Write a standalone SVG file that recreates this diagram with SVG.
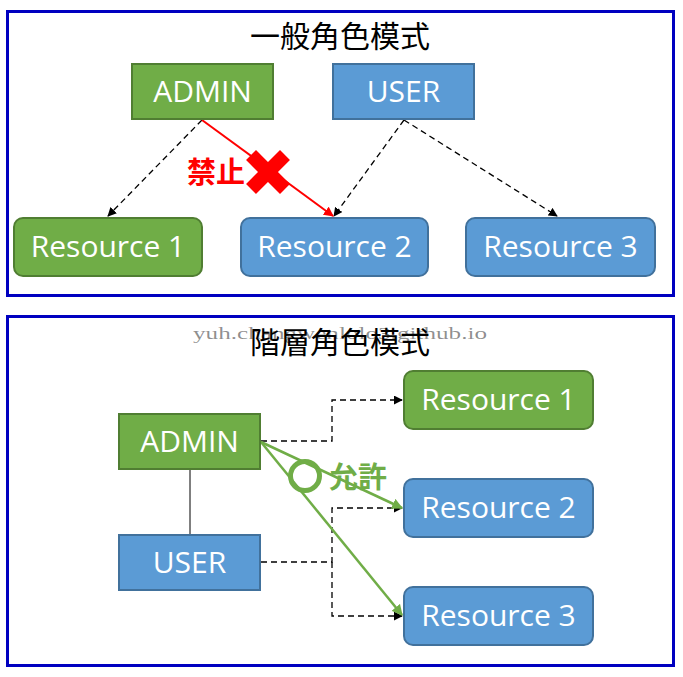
<svg xmlns="http://www.w3.org/2000/svg" width="683" height="677" viewBox="0 0 683 677">
<defs>
<style>
.frame{fill:#fff;stroke:#0000c0;stroke-width:3}
.g{fill:#70ad47;stroke:#507e32;stroke-width:2}
.b{fill:#5b9bd5;stroke:#41719c;stroke-width:2}
.lbl{font-family:"Open Sans","Noto Sans",sans-serif;font-size:30px;fill:#fff;text-anchor:middle}
.title{font-family:"Noto Sans CJK JP","Noto Sans CJK TC",sans-serif;font-size:30px;fill:#000;text-anchor:middle}
.dash{fill:none;stroke:#000;stroke-width:1.3;stroke-dasharray:6,4}
</style>
<marker id="ab" viewBox="0 0 10 10" refX="9" refY="5" markerWidth="9" markerHeight="9" markerUnits="userSpaceOnUse" orient="auto"><path d="M0,0L10,5L0,10z" fill="#000"/></marker>
<marker id="ar" viewBox="0 0 10 10" refX="9" refY="5" markerWidth="10" markerHeight="10" markerUnits="userSpaceOnUse" orient="auto"><path d="M0,0L10,5L0,10z" fill="#f00"/></marker>
<marker id="ag" viewBox="0 0 10 10" refX="9" refY="5" markerWidth="11" markerHeight="11" markerUnits="userSpaceOnUse" orient="auto"><path d="M0,0L10,5L0,10z" fill="#70ad47"/></marker>
</defs>
<rect x="0" y="0" width="683" height="677" fill="#fff"/>
<rect class="frame" x="7.5" y="11.5" width="666" height="284"/>
<rect class="frame" x="7.5" y="316.5" width="666" height="349"/>
<text class="title" x="340" y="47">一般角色模式</text>
<text class="title" x="340" y="353">階層角色模式</text>

<g id="connectors">
<line class="dash" x1="202" y1="120" x2="108" y2="216" marker-end="url(#ab)"/>
<line class="dash" x1="404" y1="120" x2="334" y2="216" marker-end="url(#ab)"/>
<line class="dash" x1="404" y1="120" x2="557" y2="216" marker-end="url(#ab)"/>
<line x1="202" y1="120" x2="333" y2="216" stroke="#f00" stroke-width="2" marker-end="url(#ar)"/>
<polyline class="dash" points="261,441 332,441 332,400 402,400" marker-end="url(#ab)"/>
<polyline class="dash" points="261,562 332,562 332,508 402,508" marker-end="url(#ab)"/>
<polyline class="dash" points="332,562 332,616 402,616" marker-end="url(#ab)"/>
<line x1="190" y1="469" x2="190" y2="535" stroke="#000" stroke-width="1"/>
<line x1="261" y1="442" x2="402" y2="508" stroke="#70ad47" stroke-width="2.5" marker-end="url(#ag)"/>
<line x1="261" y1="442" x2="402" y2="615" stroke="#70ad47" stroke-width="2.5" marker-end="url(#ag)"/>
</g>

<g id="deny">
<text x="187" y="183" font-family="'Noto Sans CJK JP',sans-serif" font-weight="bold" font-size="29" fill="#f00">禁止</text>
<g transform="translate(268,172) rotate(45)"><rect x="-24" y="-7" width="48" height="14" fill="#f00"/><rect x="-7" y="-24" width="14" height="48" fill="#f00"/></g>
</g>
<g id="allow">
<circle cx="305" cy="476" r="14.5" fill="none" stroke="#70ad47" stroke-width="5"/>
<text x="329" y="488" font-family="'Noto Sans CJK JP',sans-serif" font-weight="bold" font-size="29" fill="#70ad47">允許</text>
</g>

<g id="admin1"><rect class="g" x="132" y="64" width="141" height="55"/><text class="lbl" x="202.5" y="102">ADMIN</text></g>
<g id="user1"><rect class="b" x="333" y="64" width="141" height="55"/><text class="lbl" x="403.5" y="102">USER</text></g>
<g id="res1a"><rect class="g" x="14" y="218" width="188" height="58" rx="9"/><text class="lbl" x="108" y="257">Resource 1</text></g>
<g id="res2a"><rect class="b" x="241" y="218" width="187" height="58" rx="9"/><text class="lbl" x="334.5" y="257">Resource 2</text></g>
<g id="res3a"><rect class="b" x="466" y="218" width="189" height="58" rx="9"/><text class="lbl" x="560.5" y="257">Resource 3</text></g>

<g id="admin2"><rect class="g" x="119" y="414" width="141" height="55"/><text class="lbl" x="189.5" y="452">ADMIN</text></g>
<g id="user2"><rect class="b" x="119" y="535" width="141" height="55"/><text class="lbl" x="189.5" y="573">USER</text></g>
<g id="res1b"><rect class="g" x="404" y="371" width="189" height="58" rx="9"/><text class="lbl" x="498.5" y="410">Resource 1</text></g>
<g id="res2b"><rect class="b" x="404" y="479" width="189" height="58" rx="9"/><text class="lbl" x="498.5" y="518">Resource 2</text></g>
<g id="res3b"><rect class="b" x="404" y="587" width="189" height="58" rx="9"/><text class="lbl" x="498.5" y="626">Resource 3</text></g>

<text x="193" y="339" font-family="'Liberation Serif',serif" font-size="17" fill="#000" fill-opacity="0.45" textLength="294" lengthAdjust="spacingAndGlyphs">yuh.changwenlolo3.github.io</text>
</svg>
